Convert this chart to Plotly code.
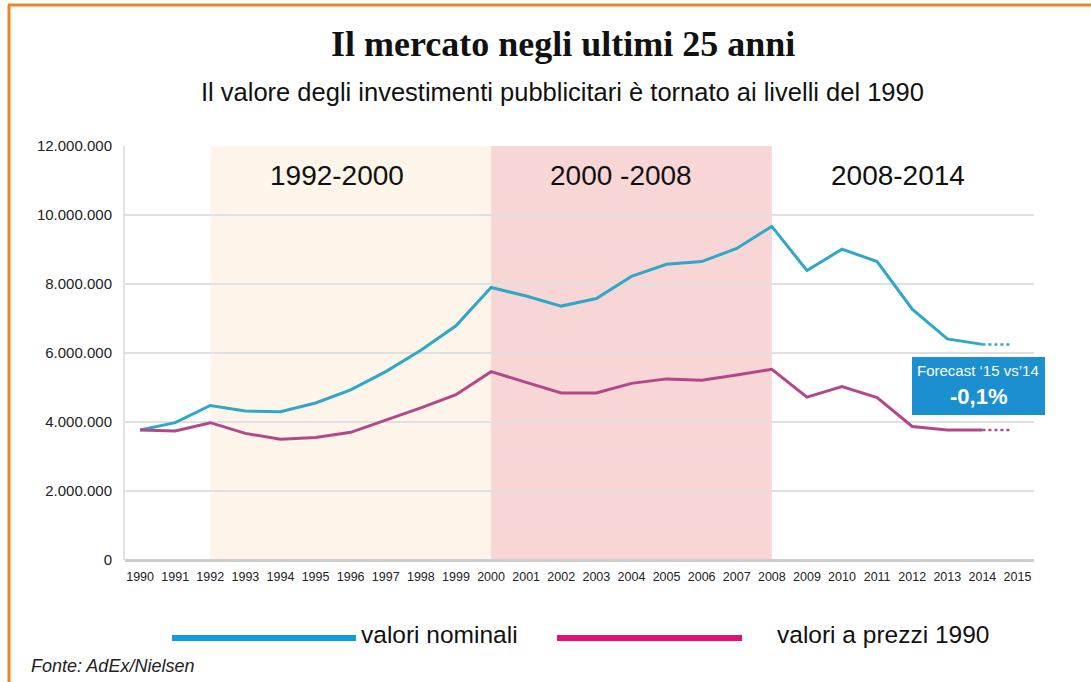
import plotly.graph_objects as go

years = list(range(1990, 2015))
nominali = [3.77, 3.98, 4.48, 4.32, 4.30, 4.55, 4.93, 5.46, 6.08, 6.79, 7.90,
            7.65, 7.36, 7.58, 8.22, 8.57, 8.65, 9.03, 9.67, 8.39, 9.01, 8.65,
            7.27, 6.41, 6.25]
prezzi_1990 = [3.77, 3.74, 3.98, 3.67, 3.50, 3.55, 3.70, 4.05, 4.41, 4.79, 5.46,
               5.15, 4.84, 4.84, 5.12, 5.25, 5.21, 5.36, 5.53, 4.72, 5.03, 4.71,
               3.87, 3.77, 3.77]
nominali = [v * 1e6 for v in nominali]
prezzi_1990 = [v * 1e6 for v in prezzi_1990]
forecast_years = [2014, 2014.8]
forecast_nominali = [nominali[-1], nominali[-1] * 0.999]
forecast_prezzi = [prezzi_1990[-1], prezzi_1990[-1] * 0.999]

periods = [("1992-2000", 1992, 2000, "#fdf4ea"),
           ("2000 -2008", 2000, 2008, "#f9d6d6"),
           ("2008-2014", 2008, 2014, "rgba(0,0,0,0)")]
period_label_x = [1995.6, 2003.7, 2011.6]
tick_years = list(range(1990, 2016))
y_ticks = [0, 2e6, 4e6, 6e6, 8e6, 10e6, 12e6]

BLUE = "#2fa7cb"
PINK = "#b3478a"

fig = go.Figure()
fig.add_trace(go.Scatter(x=years, y=nominali, mode="lines",
                         line=dict(color=BLUE, width=3), showlegend=False, hoverinfo="skip"))
fig.add_trace(go.Scatter(x=years, y=prezzi_1990, mode="lines",
                         line=dict(color=PINK, width=3), showlegend=False, hoverinfo="skip"))
fig.add_trace(go.Scatter(x=forecast_years, y=forecast_nominali, mode="lines",
                         line=dict(color=BLUE, width=2.5, dash="dot"), showlegend=False, hoverinfo="skip"))
fig.add_trace(go.Scatter(x=forecast_years, y=forecast_prezzi, mode="lines",
                         line=dict(color=PINK, width=2.5, dash="dot"), showlegend=False, hoverinfo="skip"))

W, H = 1091, 682
L, R, T, B = 125, 57, 146, 122
pw, ph = W - L - R, H - T - B


def px(x):
    return (x - L) / pw


def py(y):
    return (H - B - y) / ph


def ann(text, x, y, size, family="Liberation Sans", color="#111", xanchor="center", **kw):
    return dict(text=text, xref="paper", yref="paper", x=px(x), y=py(y), xanchor=xanchor,
                yanchor="middle", showarrow=False, font=dict(family=family, size=size, color=color), **kw)


shapes = []
annotations = []
for (label, x0, x1, col), lx in zip(periods, period_label_x):
    shapes.append(dict(type="rect", xref="x", yref="paper", x0=x0, x1=x1, y0=0, y1=1,
                       fillcolor=col, line=dict(width=0), layer="below"))
    annotations.append(dict(text=label, xref="x", yref="paper", x=lx, y=py(175),
                            xanchor="center", yanchor="middle", showarrow=False,
                            font=dict(family="Liberation Sans", size=28, color="#111")))

# orange frame
shapes.append(dict(type="line", xref="paper", yref="paper", x0=px(8), x1=px(1091), y0=py(5), y1=py(5),
                   line=dict(color="#f28322", width=3)))
shapes.append(dict(type="line", xref="paper", yref="paper", x0=px(9), x1=px(9), y0=py(5), y1=py(682),
                   line=dict(color="#f28322", width=3)))
# legend lines
shapes.append(dict(type="line", xref="paper", yref="paper", x0=px(172), x1=px(356), y0=py(638), y1=py(638),
                   line=dict(color="#0b9fdc", width=6)))
shapes.append(dict(type="line", xref="paper", yref="paper", x0=px(557), x1=px(742), y0=py(638), y1=py(638),
                   line=dict(color="#e0127a", width=6)))
# forecast box
shapes.append(dict(type="rect", xref="paper", yref="paper", x0=px(912), x1=px(1045), y0=py(415), y1=py(357),
                   fillcolor="#1c8fd0", line=dict(width=0)))

annotations += [
    ann("<b>Il mercato negli ultimi 25 anni</b>", 563, 44, 36, family="Liberation Serif"),
    ann("Il valore degli investimenti pubblicitari è tornato ai livelli del 1990", 562, 92, 25.5),
    ann("valori nominali", 359, 634, 24.5, xanchor="left"),
    ann("valori a prezzi 1990", 775, 634, 24.5, xanchor="left"),
    ann("<i>Fonte: AdEx/Nielsen</i>", 29, 666, 18, color="#222", xanchor="left"),
    ann("Forecast ‘15 vs’14", 978, 370, 15, color="white"),
    ann("<b>-0,1%</b>", 978, 396, 22, color="white"),
]

fig.update_layout(
    width=W, height=H,
    margin=dict(l=L, r=R, t=T, b=B),
    paper_bgcolor="white", plot_bgcolor="white",
    separators=",.",
    shapes=shapes, annotations=annotations,
    xaxis=dict(range=[1989.57, 2015.47], tickvals=tick_years, ticktext=[str(y) for y in tick_years],
               showgrid=False, zeroline=False, showline=False, ticks="", ticklabelstandoff=7,
               tickfont=dict(family="Liberation Sans", size=12.5, color="#222")),
    yaxis=dict(range=[0, 12e6], tickvals=y_ticks, tickformat=",.0f",
               showgrid=True, gridcolor="#e0e0e0", gridwidth=2,
               zeroline=True, zerolinecolor="#cfcfcf", zerolinewidth=3,
               showline=True, linecolor="#e2e2e2", linewidth=2, ticks="", ticklen=0,
               ticklabelstandoff=8,
               tickfont=dict(family="Liberation Sans", size=15, color="#222")),
)

fig.write_html("out.html", config={"displayModeBar": False},
               post_script="document.body.style.margin='0';document.body.style.padding='0';")
